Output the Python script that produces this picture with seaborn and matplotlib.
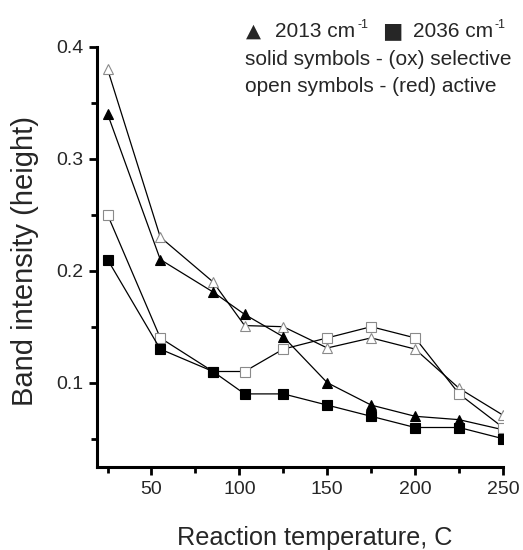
import matplotlib
matplotlib.use("Agg")
import matplotlib.pyplot as plt
import seaborn as sns
import pandas as pd

temps = [25, 55, 85, 103, 125, 150, 175, 200, 225, 250]
tri_open = [0.38, 0.23, 0.19, 0.151, 0.15, 0.131, 0.14, 0.13, 0.095, 0.071]
tri_solid = [0.34, 0.21, 0.181, 0.161, 0.141, 0.10, 0.08, 0.07, 0.067, 0.058]
sq_open = [0.25, 0.14, 0.11, 0.11, 0.13, 0.14, 0.15, 0.14, 0.09, 0.06]
sq_solid = [0.21, 0.13, 0.11, 0.09, 0.09, 0.08, 0.07, 0.06, 0.06, 0.05]

xlabel = "Reaction temperature, C"
ylabel = "Band intensity (height)"
xticks = [50, 100, 150, 200, 250]
yticks = [0.1, 0.2, 0.3, 0.4]
ytick_labels = ["0.1", "0.2", "0.3", "0.4"]
band1 = "2013 cm"
band2 = "2036 cm"
line2 = "solid symbols - (ox) selective"
line3 = "open symbols - (red) active"

sns.set_style("ticks")
plt.rcParams['font.family'] = ['Liberation Sans', 'DejaVu Sans']

fig = plt.figure(figsize=(5.23, 5.5), dpi=100)
ax = fig.add_axes([97/523, 1-466.7/550, 406/523, 420/550])

series = [
    (tri_open, '^', 'white', '#8a8a8a'),
    (tri_solid, '^', 'black', 'black'),
    (sq_open, 's', 'white', '#8a8a8a'),
    (sq_solid, 's', 'black', 'black'),
]
for vals, m, fc, ec in series:
    df = pd.DataFrame({'T': temps, 'I': vals})
    sns.lineplot(data=df, x='T', y='I', ax=ax, color='black', linewidth=0.9,
                 marker=m, markersize=6.5, markerfacecolor=fc, markeredgecolor=ec,
                 markeredgewidth=0.8, zorder=3)

ax.set_xlim(19, 250)
ax.set_ylim(0.025, 0.4)
ax.set_xticks(xticks)
ax.set_xticks([25, 75, 125, 175, 225], minor=True)
ax.set_yticks(yticks)
ax.set_yticklabels(ytick_labels)
ax.set_yticks([0.05, 0.15, 0.25, 0.35], minor=True)
ax.tick_params(axis='both', which='major', length=6, width=2, labelsize=14, direction='out', color='black', pad=4)
ax.tick_params(axis='both', which='minor', length=4, width=2, direction='out', color='black')
for s in ['top', 'right']:
    ax.spines[s].set_visible(False)
for s in ['left', 'bottom']:
    ax.spines[s].set_linewidth(2.2)
    ax.spines[s].set_color('black')

ax.set_xlabel(xlabel, fontsize=18.2, va='baseline')
ax.xaxis.set_label_coords((315-97)/406, -(545-466.7)/420)
ax.set_ylabel(ylabel, fontsize=21, va='center')
ax.yaxis.set_label_coords((25-97)/406, (466.7-261.5)/420)

W, H = 523, 550
def t(x, y, s, size, **kw):
    fig.text(x/W, 1-y/H, s, fontsize=size, va='baseline', ha='left', **kw)

fs = 15
t(246, 36.7, "\u25B2", 14, family='DejaVu Sans')
t(275, 36.7, band1, fs)
t(357.5, 27.5, "-1", 9)
t(382, 36.7, "\u25A0", 15.5, family='DejaVu Sans')
t(413, 36.7, band2, fs)
t(494.5, 27.5, "-1", 9)
t(245, 65, line2, fs)
t(245, 91.7, line3, fs)

fig.savefig("out.png", dpi=100, facecolor='white')
